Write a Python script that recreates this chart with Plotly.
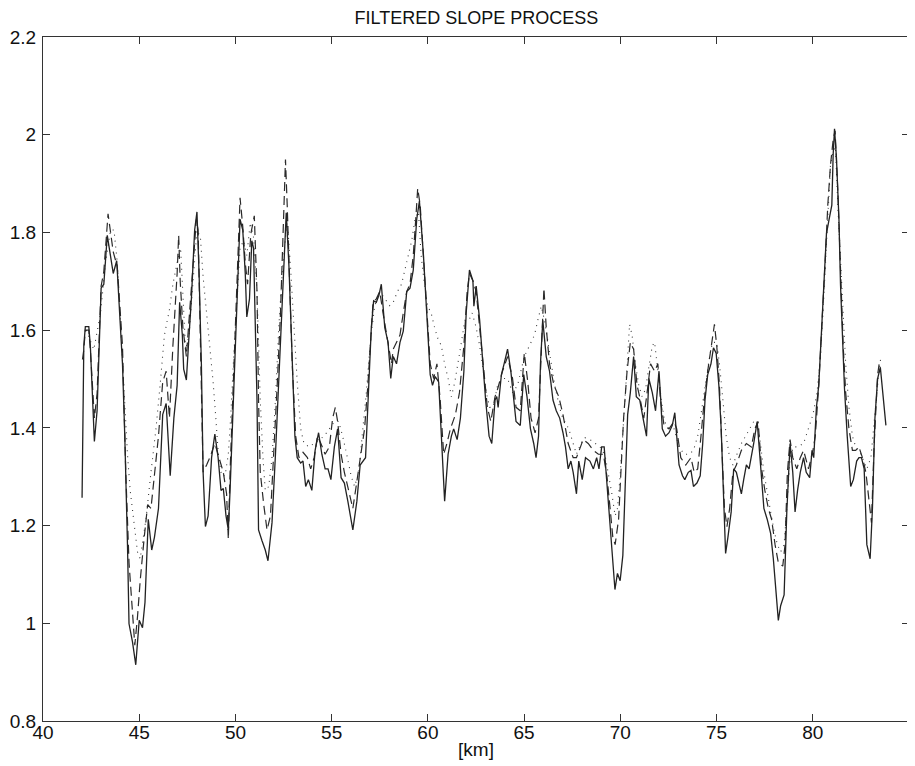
import plotly.graph_objects as go

# ---- data ----
km_solid = [42.03, 42.12, 42.20, 42.38, 42.46, 42.67, 42.81, 43.02, 43.16, 43.34, 43.65, 43.83, 44.13, 44.25,
            44.39, 44.47, 44.65, 44.82, 45.00, 45.17, 45.30, 45.47, 45.65, 45.79, 46.00, 46.22, 46.40, 46.61,
            46.80, 46.97, 47.10, 47.24, 47.31, 47.45, 47.59, 47.71, 47.88, 48.00, 48.11, 48.23, 48.32, 48.44,
            48.58, 48.76, 48.93, 49.10, 49.25, 49.37, 49.51, 49.63, 49.72, 49.89, 50.07, 50.16, 50.24, 50.38,
            50.51, 50.59, 50.73, 50.85, 50.94, 51.12, 51.20, 51.38, 51.55, 51.69, 51.90, 52.08, 52.25, 52.43,
            52.55, 52.64, 52.78, 52.95, 53.09, 53.21, 53.39, 53.51, 53.65, 53.79, 53.97, 54.14, 54.32, 54.49,
            54.66, 54.81, 54.96, 55.14, 55.31, 55.49, 55.66, 55.84, 56.10, 56.31, 56.48, 56.76, 56.88, 57.06,
            57.18, 57.32, 57.46, 57.58, 57.76, 57.93, 58.07, 58.20, 58.37, 58.55, 58.72, 58.90, 59.07, 59.24,
            59.42, 59.56, 59.77, 59.94, 60.12, 60.24, 60.38, 60.56, 60.70, 60.87, 61.05, 61.22, 61.34, 61.52,
            61.69, 61.87, 61.99, 62.16, 62.34, 62.39, 62.51, 62.69, 62.86, 63.00, 63.18, 63.32, 63.49, 63.58,
            63.65, 63.82, 63.96, 64.14, 64.31, 64.45, 64.58, 64.80, 64.98, 65.15, 65.33, 65.50, 65.62, 65.75,
            65.85, 65.97, 66.15, 66.32, 66.50, 66.67, 66.85, 67.02, 67.15, 67.29, 67.43, 67.55, 67.72, 67.84,
            68.02, 68.19, 68.42, 68.60, 68.77, 68.89, 69.03, 69.16, 69.26, 69.38, 69.51, 69.61, 69.72, 69.85,
            69.99, 70.13, 70.26, 70.38, 70.52, 70.69, 70.83, 71.01, 71.18, 71.36, 71.48, 71.66, 71.83, 72.01,
            72.09, 72.18, 72.35, 72.53, 72.70, 72.83, 72.93, 73.05, 73.23, 73.35, 73.53, 73.67, 73.80, 73.98,
            74.15, 74.28, 74.40, 74.54, 74.71, 74.84, 74.98, 75.12, 75.24, 75.36, 75.47, 75.59, 75.76, 75.89,
            76.03, 76.16, 76.29, 76.41, 76.55, 76.69, 76.81, 76.93, 77.11, 77.21, 77.34, 77.46, 77.63, 77.81,
            77.95, 78.09, 78.21, 78.33, 78.51, 78.65, 78.82, 78.96, 79.08, 79.21, 79.35, 79.52, 79.66, 79.84,
            79.96, 80.05, 80.19, 80.31, 80.43, 80.57, 80.71, 80.85, 80.99, 81.06, 81.13, 81.23, 81.36, 81.44,
            81.53, 81.65, 81.79, 81.97, 82.11, 82.28, 82.40, 82.53, 82.67, 82.81, 82.98, 83.10, 83.23, 83.37,
            83.51, 83.65, 83.80]
slope_solid = [1.257, 1.568, 1.607, 1.607, 1.568, 1.372, 1.435, 1.686, 1.694, 1.794, 1.716, 1.742, 1.531, 1.383,
               1.161, 0.999, 0.962, 0.915, 1.006, 0.991, 1.043, 1.213, 1.150, 1.176, 1.235, 1.427, 1.450, 1.302,
               1.420, 1.487, 1.657, 1.590, 1.520, 1.498, 1.590, 1.664, 1.805, 1.842, 1.716, 1.531, 1.309, 1.198,
               1.220, 1.339, 1.387, 1.339, 1.272, 1.276, 1.220, 1.191, 1.272, 1.457, 1.642, 1.753, 1.827, 1.805,
               1.716, 1.627, 1.664, 1.783, 1.768, 1.457, 1.191, 1.169, 1.150, 1.128, 1.206, 1.346, 1.494, 1.679,
               1.775, 1.840, 1.731, 1.531, 1.383, 1.339, 1.328, 1.332, 1.280, 1.294, 1.272, 1.354, 1.390, 1.346,
               1.316, 1.316, 1.294, 1.361, 1.398, 1.298, 1.287, 1.250, 1.191, 1.250, 1.324, 1.339, 1.457, 1.605,
               1.660, 1.657, 1.672, 1.694, 1.605, 1.575, 1.501, 1.546, 1.531, 1.575, 1.598, 1.679, 1.686, 1.723,
               1.827, 1.864, 1.753, 1.642, 1.509, 1.487, 1.505, 1.494, 1.383, 1.250, 1.346, 1.383, 1.398, 1.376,
               1.420, 1.516, 1.635, 1.723, 1.701, 1.649, 1.690, 1.620, 1.531, 1.457, 1.383, 1.368, 1.457, 1.464,
               1.442, 1.509, 1.531, 1.561, 1.516, 1.464, 1.413, 1.405, 1.509, 1.464, 1.398, 1.368, 1.339, 1.383,
               1.531, 1.620, 1.546, 1.516, 1.457, 1.435, 1.420, 1.390, 1.361, 1.316, 1.332, 1.309, 1.265, 1.332,
               1.294, 1.339, 1.332, 1.316, 1.339, 1.316, 1.361, 1.361, 1.309, 1.250, 1.176, 1.117, 1.069, 1.102,
               1.087, 1.139, 1.309, 1.427, 1.472, 1.546, 1.464, 1.457, 1.420, 1.383, 1.501, 1.472, 1.435, 1.516,
               1.464, 1.398, 1.383, 1.390, 1.405, 1.431, 1.383, 1.324, 1.302, 1.294, 1.309, 1.313, 1.280, 1.287,
               1.302, 1.368, 1.457, 1.509, 1.531, 1.564, 1.553, 1.487, 1.398, 1.265, 1.143, 1.176, 1.228, 1.316,
               1.309, 1.287, 1.265, 1.294, 1.324, 1.316, 1.339, 1.368, 1.413, 1.361, 1.280, 1.235, 1.213, 1.184,
               1.132, 1.073, 1.006, 1.036, 1.058, 1.228, 1.368, 1.309, 1.228, 1.272, 1.309, 1.339, 1.309, 1.298,
               1.354, 1.339, 1.442, 1.487, 1.590, 1.694, 1.797, 1.827, 1.856, 1.960, 2.012, 1.953, 1.827, 1.694,
               1.605, 1.479, 1.383, 1.280, 1.294, 1.332, 1.339, 1.339, 1.316, 1.161, 1.132, 1.235, 1.420, 1.501,
               1.524, 1.472, 1.405]

km_dashed = [42.05, 42.12, 42.20, 42.38, 42.46, 42.67, 42.81, 43.02, 43.16, 43.38, 43.65, 43.86, 44.13, 44.30,
             44.47, 44.65, 44.77, 44.91, 45.05, 45.26, 45.44, 45.61, 45.82, 46.00, 46.22, 46.40, 46.57, 46.75,
             46.97, 47.05, 47.13, 47.27, 47.45, 47.62, 47.80, 47.97, 48.06, 48.15, 48.23, 48.32, 48.50, 48.67,
             48.93, 49.16, 49.37, 49.54, 49.63, 49.72, 49.89, 50.07, 50.24, 50.38, 50.51, 50.63, 50.80, 50.98,
             51.12, 51.20, 51.29, 51.47, 51.64, 51.82, 51.99, 52.17, 52.34, 52.52, 52.60, 52.69, 52.81, 52.95,
             53.13, 53.30, 53.51, 53.74, 53.91, 54.09, 54.26, 54.44, 54.66, 54.88, 55.05, 55.19, 55.31, 55.49,
             55.66, 55.92, 56.10, 56.27, 56.48, 56.71, 56.88, 57.01, 57.15, 57.32, 57.50, 57.67, 57.93, 58.11,
             58.20, 58.55, 58.72, 58.90, 59.07, 59.24, 59.37, 59.47, 59.60, 59.77, 59.94, 60.12, 60.30, 60.47,
             60.64, 60.82, 60.99, 61.17, 61.43, 61.64, 61.87, 62.04, 62.16, 62.34, 62.51, 62.74, 62.92, 63.09,
             63.27, 63.49, 63.62, 63.88, 64.14, 64.40, 64.58, 64.80, 65.01, 65.19, 65.36, 65.57, 65.75, 65.89,
             66.03, 66.15, 66.32, 66.55, 66.80, 67.02, 67.29, 67.55, 67.72, 68.07, 68.33, 68.60, 68.86, 69.12,
             69.30, 69.47, 69.61, 69.73, 69.91, 70.03, 70.17, 70.35, 70.52, 70.69, 70.87, 71.04, 71.22, 71.39,
             71.57, 71.78, 71.95, 72.09, 72.27, 72.53, 72.79, 72.93, 73.14, 73.40, 73.67, 73.84, 74.02, 74.19,
             74.36, 74.54, 74.71, 74.89, 75.01, 75.15, 75.29, 75.41, 75.54, 75.68, 75.85, 76.03, 76.29, 76.55,
             76.81, 76.99, 77.16, 77.34, 77.51, 77.69, 77.86, 78.04, 78.21, 78.44, 78.56, 78.68, 78.82, 78.96,
             79.17, 79.35, 79.52, 79.78, 80.01, 80.13, 80.31, 80.48, 80.66, 80.78, 80.92, 81.06, 81.16, 81.30,
             81.44, 81.58, 81.71, 81.88, 82.06, 82.23, 82.40, 82.58, 82.76, 82.93, 83.05, 83.19, 83.37, 83.45]
slope_dashed = [1.540, 1.560, 1.600, 1.600, 1.560, 1.420, 1.470, 1.690, 1.720, 1.838, 1.760, 1.730, 1.568, 1.310,
                1.124, 1.028, 0.955, 1.013, 1.087, 1.176, 1.243, 1.235, 1.309, 1.383, 1.494, 1.516, 1.420, 1.568,
                1.716, 1.794, 1.700, 1.605, 1.546, 1.635, 1.738, 1.827, 1.805, 1.642, 1.457, 1.309, 1.324, 1.339,
                1.368, 1.339, 1.309, 1.265, 1.172, 1.309, 1.494, 1.679, 1.871, 1.812, 1.738, 1.694, 1.797, 1.834,
                1.679, 1.457, 1.309, 1.243, 1.191, 1.220, 1.346, 1.487, 1.635, 1.827, 1.949, 1.856, 1.694, 1.531,
                1.383, 1.339, 1.350, 1.339, 1.316, 1.339, 1.383, 1.368, 1.346, 1.361, 1.420, 1.442, 1.413, 1.346,
                1.309, 1.265, 1.235, 1.280, 1.339, 1.398, 1.487, 1.575, 1.657, 1.664, 1.679, 1.635, 1.575, 1.531,
                1.561, 1.590, 1.635, 1.679, 1.694, 1.753, 1.827, 1.890, 1.856, 1.753, 1.649, 1.531, 1.501, 1.531,
                1.457, 1.346, 1.368, 1.398, 1.427, 1.472, 1.568, 1.679, 1.716, 1.701, 1.679, 1.590, 1.509, 1.442,
                1.413, 1.464, 1.479, 1.516, 1.546, 1.501, 1.442, 1.435, 1.553, 1.494, 1.420, 1.390, 1.420, 1.568,
                1.686, 1.605, 1.531, 1.487, 1.464, 1.427, 1.368, 1.339, 1.339, 1.376, 1.368, 1.354, 1.346, 1.346,
                1.302, 1.235, 1.176, 1.161, 1.213, 1.309, 1.420, 1.516, 1.575, 1.561, 1.487, 1.457, 1.420, 1.472,
                1.531, 1.516, 1.531, 1.457, 1.405, 1.398, 1.413, 1.398, 1.339, 1.324, 1.339, 1.309, 1.316, 1.383,
                1.457, 1.516, 1.561, 1.612, 1.568, 1.487, 1.346, 1.235, 1.198, 1.235, 1.309, 1.324, 1.354, 1.368,
                1.361, 1.398, 1.413, 1.316, 1.272, 1.235, 1.213, 1.161, 1.124, 1.117, 1.161, 1.309, 1.376, 1.339,
                1.316, 1.339, 1.354, 1.316, 1.354, 1.383, 1.487, 1.605, 1.753, 1.856, 1.938, 1.990, 2.008, 1.886,
                1.716, 1.568, 1.472, 1.398, 1.354, 1.354, 1.361, 1.339, 1.309, 1.250, 1.206, 1.368, 1.509, 1.531]

km_dotted = [42.25, 42.45, 42.64, 42.99, 43.25, 43.51, 43.69, 43.86, 44.04, 44.21, 44.39, 44.53, 44.74, 44.91,
             45.05, 45.17, 45.35, 45.61, 45.87, 46.10, 46.31, 46.57, 46.75, 46.97, 47.15, 47.41, 47.59, 47.80,
             48.00, 48.18, 48.32, 48.50, 48.67, 48.84, 48.98, 49.11, 49.28, 49.46, 49.63, 49.75, 49.89, 50.07,
             50.24, 50.42, 50.59, 50.77, 50.94, 51.12, 51.29, 51.43, 51.55, 51.73, 51.90, 52.08, 52.25, 52.43,
             52.60, 52.69, 52.86, 53.04, 53.21, 53.39, 53.56, 53.83, 54.09, 54.35, 54.61, 54.88, 55.14, 55.36,
             55.57, 55.78, 56.01, 56.19, 56.41, 56.62, 56.80, 57.01, 57.23, 57.50, 57.76, 58.02, 58.20, 58.42,
             58.63, 58.81, 58.98, 59.16, 59.33, 59.51, 59.65, 59.82, 59.99, 60.17, 60.35, 60.52, 60.70, 60.87,
             61.05, 61.22, 61.40, 61.57, 61.74, 61.92, 62.13, 62.30, 62.51, 62.69, 62.86, 63.04, 63.21, 63.39,
             63.62, 63.88, 64.14, 64.40, 64.66, 64.84, 65.01, 65.19, 65.36, 65.54, 65.71, 65.89, 66.06, 66.24,
             66.41, 66.59, 66.76, 66.94, 67.11, 67.32, 67.55, 67.72, 67.95, 68.16, 68.42, 68.68, 68.95, 69.21,
             69.38, 69.56, 69.73, 69.85, 69.99, 70.13, 70.26, 70.38, 70.48, 70.61, 70.78, 70.96, 71.13, 71.31,
             71.48, 71.66, 71.78, 71.95, 72.13, 72.30, 72.53, 72.79, 73.05, 73.32, 73.58, 73.80, 74.02, 74.19,
             74.40, 74.58, 74.71, 74.80, 75.01, 75.15, 75.33, 75.50, 75.68, 75.85, 76.06, 76.29, 76.51, 76.72,
             76.93, 77.11, 77.28, 77.46, 77.63, 77.81, 77.98, 78.16, 78.33, 78.51, 78.65, 78.82, 78.99, 79.21,
             79.52, 79.78, 80.01, 80.22, 80.40, 80.53, 80.66, 80.78, 80.92, 81.06, 81.18, 81.30, 81.44, 81.58,
             81.71, 81.88, 82.06, 82.23, 82.40, 82.58, 82.81, 83.02, 83.16, 83.28, 83.40, 83.54]
slope_dotted = [1.600, 1.580, 1.560, 1.635, 1.738, 1.805, 1.805, 1.738, 1.605, 1.457, 1.346, 1.272, 1.198, 1.146,
                1.132, 1.161, 1.213, 1.309, 1.398, 1.494, 1.590, 1.642, 1.694, 1.738, 1.768, 1.561, 1.590, 1.701,
                1.805, 1.790, 1.709, 1.635, 1.568, 1.494, 1.420, 1.346, 1.302, 1.302, 1.346, 1.420, 1.531, 1.642,
                1.768, 1.783, 1.753, 1.820, 1.790, 1.679, 1.457, 1.339, 1.272, 1.280, 1.339, 1.457, 1.605, 1.716,
                1.790, 1.827, 1.731, 1.605, 1.494, 1.398, 1.368, 1.361, 1.368, 1.376, 1.383, 1.398, 1.413, 1.413,
                1.383, 1.346, 1.302, 1.280, 1.309, 1.398, 1.472, 1.575, 1.649, 1.679, 1.664, 1.650, 1.657, 1.679,
                1.694, 1.723, 1.753, 1.783, 1.827, 1.842, 1.753, 1.694, 1.649, 1.635, 1.605, 1.583, 1.568, 1.531,
                1.501, 1.464, 1.494, 1.531, 1.575, 1.620, 1.620, 1.635, 1.605, 1.568, 1.516, 1.472, 1.442, 1.442,
                1.487, 1.501, 1.501, 1.472, 1.487, 1.516, 1.546, 1.561, 1.575, 1.590, 1.620, 1.649, 1.620, 1.575,
                1.531, 1.487, 1.457, 1.427, 1.413, 1.398, 1.368, 1.346, 1.368, 1.380, 1.376, 1.368, 1.361, 1.343,
                1.309, 1.265, 1.220, 1.235, 1.302, 1.383, 1.472, 1.546, 1.612, 1.590, 1.531, 1.487, 1.464, 1.479,
                1.524, 1.568, 1.575, 1.516, 1.457, 1.413, 1.398, 1.398, 1.361, 1.346, 1.346, 1.354, 1.383, 1.427,
                1.487, 1.531, 1.561, 1.575, 1.575, 1.531, 1.457, 1.383, 1.339, 1.324, 1.346, 1.368, 1.383, 1.398,
                1.413, 1.413, 1.368, 1.309, 1.265, 1.228, 1.191, 1.161, 1.146, 1.161, 1.235, 1.339, 1.361, 1.361,
                1.368, 1.398, 1.427, 1.472, 1.546, 1.635, 1.738, 1.842, 1.938, 1.967, 1.975, 1.856, 1.738, 1.620,
                1.531, 1.442, 1.383, 1.361, 1.354, 1.339, 1.316, 1.339, 1.398, 1.457, 1.501, 1.546]

x_ticks = [40, 45, 50, 55, 60, 65, 70, 75, 80, 85]
y_ticks = [0.8, 1.0, 1.2, 1.4, 1.6, 1.8, 2.0, 2.2]
y_tick_text = ["0.8", "1", "1.2", "1.4", "1.6", "1.8", "2", "2.2"]

FONT = "Liberation Sans Narrow, Liberation Sans, Arial, sans-serif"

fig = go.Figure()
fig.add_trace(go.Scatter(x=km_dotted, y=slope_dotted, mode="lines",
                         line=dict(color="#3a3a3a", width=1.1, dash="1px,5px")))
fig.add_trace(go.Scatter(x=km_dashed, y=slope_dashed, mode="lines",
                         line=dict(color="#2a2a2a", width=1.2, dash="9px,5px")))
fig.add_trace(go.Scatter(x=km_solid, y=slope_solid, mode="lines",
                         line=dict(color="#222222", width=1.3)))

axis_common = dict(showgrid=False, zeroline=False, showline=True, linecolor="#333333", linewidth=1.2,
                   mirror="ticks", ticks="inside", ticklen=7, tickcolor="#333333", tickwidth=1,
                   automargin=False,
                   tickfont=dict(family=FONT, size=19, color="#111111"))

# the page body adds an 8px offset, so the figure is 907x758 and margins are shifted accordingly
fig.update_layout(
    width=907, height=758,
    margin=dict(l=35, r=6, t=29, b=45),
    paper_bgcolor="white", plot_bgcolor="white",
    showlegend=False,
    title=dict(text="FILTERED SLOPE PROCESS", x=0.5165, xanchor="center", y=0.9955, yanchor="top",
               yref="container", pad=dict(t=0, b=0),
               font=dict(family=FONT, size=18, color="#111111")),
    xaxis=dict(range=[40, 85], tickvals=x_ticks, ticktext=[str(v) for v in x_ticks],
               title=dict(text="[km]", font=dict(family=FONT, size=19, color="#111111"), standoff=0),
               ticklabelstandoff=-6,
               **axis_common),
    yaxis=dict(range=[0.8, 2.2], tickvals=y_ticks, ticktext=y_tick_text, ticklabelstandoff=2,
               **axis_common),
)

fig.write_html("out.html")
